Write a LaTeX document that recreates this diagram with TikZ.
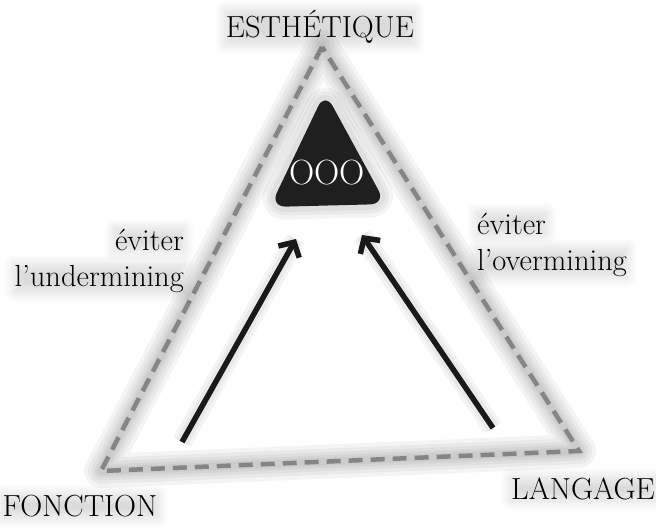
\documentclass[tikz,border=0pt]{standalone}
\usepackage{tikz}
\usetikzlibrary{arrows.meta,shadows.blur}
\tikzset{>={Straight Barb[length=11pt,width=24pt]}}

\tikzset{
  label/.style={font=\fontsize{30.5}{33}\selectfont, inner sep=1pt,
    blur shadow={shadow xshift=0pt, shadow yshift=0pt, shadow blur radius=10pt,
      shadow opacity=14, shadow blur steps=14}},
  glow/.style={line width=#1, black, opacity=0.045, line join=round},
  edge/.style={line width=4.5pt, black!48, dash pattern=on 14pt off 8pt, line join=miter},
}

\begin{document}
\begin{tikzpicture}[x=1pt, y=-1pt]
  \useasboundingbox (0,0) rectangle (656,528);

  % corners of the triangle
  \coordinate (E) at (322,47);
  \coordinate (F) at (101,471);
  \coordinate (L) at (579,451);

  % soft halo, then the dashed edges
  \foreach \w in {34,26,19,13,8}
    \draw[glow=\w pt] (E) -- (F) -- (L) -- cycle;
  \draw[edge] (E) -- (F) -- (L) -- cycle;

  % the three poles
  \node[label] (esth) at (320,27) {ESTHÉTIQUE};
  \node[label] (fonc) at (80,506) {FONCTION};
  \node[label] (lang) at (583,489) {LANGAGE};

  % what has to be avoided on each side
  \node[label, anchor=base east] (under1) at (185,250) {éviter};
  \node[label, anchor=base east] (under2) at (185,286) {l’undermining};
  \node[label, anchor=base west] (over1) at (476,234) {éviter};
  \node[label, anchor=base west] (over2) at (476,270) {l’overmining};

  % the object
  \foreach \w in {26,18,11}
    \draw[glow=\w pt, rounded corners=16pt] (325,92) -- (270,207) -- (386,204) -- cycle;
  \fill[black!88, rounded corners=16pt] (325,92) -- (270,207) -- (386,204) -- cycle;
  \node[white, font=\fontsize{35}{38}\selectfont] (ooo) at (327,173) {OOO};

  % the two moves towards it
  \coordinate (fa) at (182,442);
  \coordinate (fb) at (296,239);
  \coordinate (la) at (493,428);
  \coordinate (lb) at (362,235);
  \foreach \w in {20,13}
    \draw[glow=\w pt] (fa) -- (fb) (la) -- (lb);
  \draw[line width=5.5pt, ->, black!90] (fa) -- (fb);
  \draw[line width=5.5pt, ->, black!90] (la) -- (lb);
\end{tikzpicture}
\end{document}
